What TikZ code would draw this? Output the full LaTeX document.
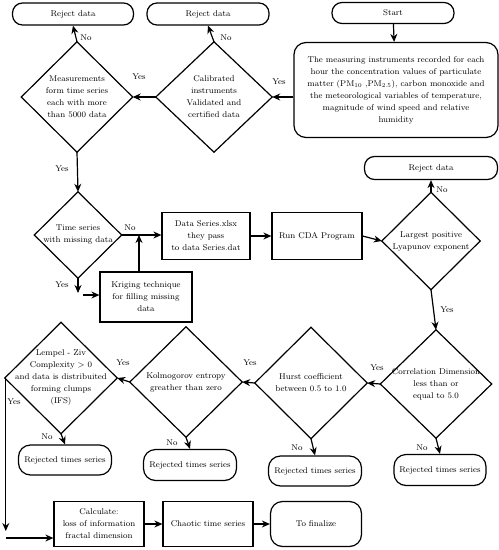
\documentclass[tikz,border=0pt]{standalone}
\usetikzlibrary{arrows.meta}
\newcommand\mydia[6]{%
  \node[base,minimum width=#4pt,minimum height=#5pt] (#1) at (#2,#3) {#6};
  \draw[ln] (#1.north)--(#1.east)--(#1.south)--(#1.west)--cycle;}
\tikzset{
  base/.style={font=\fontsize{8.4}{12}\selectfont, align=center, inner sep=0pt},
  ln/.style={line width=1.2pt},
  term/.style={base, draw, ln, rounded corners=10pt},
  proc/.style={base, draw, ln},
  arr/.style={line width=1.2pt, -{Stealth[length=8pt,width=7pt]}},
  lab/.style={font=\fontsize{8.4}{10}\selectfont, inner sep=0pt}
}
\begin{document}
\begin{tikzpicture}[x=1pt,y=-1pt]
\useasboundingbox (0,0) rectangle (499,550);
% terminals top
\node[term,minimum width=121pt,minimum height=22pt] (rj1) at (73,14) {Reject data};
\node[term,minimum width=122pt,minimum height=22pt] (rj2) at (208,14) {Reject data};
\node[term,minimum width=122pt,minimum height=21pt] (start) at (393,13) {Start};
\node[term,minimum width=133pt,minimum height=23pt] (rj3) at (431,168) {Reject data};
\node[term,rounded corners=12pt,minimum width=204pt,minimum height=95pt] (big) at (396,90)
 {The measuring instruments recorded for each\\ hour the concentration values of particulate\\ matter (PM\textsubscript{10} ,PM\textsubscript{2.5}), carbon monoxide and\\ the meteorological variables of temperature,\\ magnitude of wind speed and relative\\ humidity};
% diamonds
\mydia{d1}{77}{97}{111}{110}{Measurements\\form time series\\each with more\\than 5000 data}
\mydia{d2}{214}{97}{116}{110}{Calibrated\\instruments\\Validated and\\certified data}
\mydia{d3}{78}{235}{87}{86}{Time series\\with missing data}
\mydia{d4}{431}{241}{98}{97}{Largest positive\\Lyapunov exponent}
\mydia{d5}{436}{384}{111}{108}{Correlation Dimension\\less than or\\equal to 5.0}
\mydia{d6}{311}{383}{112}{111}{Hurst coefficient\\between 0.5 to 1.0}
\mydia{d7}{186}{382}{112}{110}{Kolmogorov entropy\\greather than zero}
\mydia{d8}{61}{378}{112}{111}{Lempel - Ziv\\Complexity > 0\\and data is distribuited\\forming clumps\\(IFS)}
% process boxes
\node[proc,minimum width=88pt,minimum height=47pt] (data) at (206,236) {Data Series.xlsx\\they pass\\to data Series.dat};
\node[proc,minimum width=92pt,minimum height=50pt] (krig) at (146,297) {Kriging technique\\for filling missing\\data};
\node[proc,minimum width=90pt,minimum height=47pt] (run) at (317,236) {Run CDA Program};
% rejected
\node[term,rounded corners=12pt,minimum width=93pt,minimum height=30pt] (r1) at (65,460) {Rejected times series};
\node[term,rounded corners=12pt,minimum width=93pt,minimum height=31pt] (r2) at (190,465) {Rejected times series};
\node[term,rounded corners=12pt,minimum width=93pt,minimum height=30pt] (r3) at (315,471) {Rejected times series};
\node[term,rounded corners=12pt,minimum width=92pt,minimum height=31pt] (r4) at (440,470) {Rejected times series};
% bottom
\node[proc,minimum width=90pt,minimum height=45pt] (calc) at (99,524) {Calculate:\\loss of information\\fractal dimension};
\node[proc,minimum width=90pt,minimum height=45pt] (chaos) at (208,524) {Chaotic time series};
\node[term,rounded corners=12pt,minimum width=91pt,minimum height=45pt] (fin) at (316,524) {To finalize};
% connectors
\draw[arr] (start) -- (big);
\draw[arr] (d2.east -| big.west) -- (d2.east);
\node[lab] at (279,82) {Yes};
\draw[arr] (d2.west) -- (d1.east);
\node[lab] at (139,77) {Yes};
\draw[arr] (d2.north) -- (rj2.south);
\node[lab] at (226,38) {No};
\draw[arr] (d1.north) -- (rj1.south);
\node[lab] at (86,38) {No};
\draw[arr] (d1.south) -- (d3.north);
\node[lab] at (62,169) {Yes};
\draw[arr] (d3.east) -- (d3.east -| data.west);
\node[lab] at (130,228) {No};
\coordinate (kup) at ([xshift=-7pt]krig.north);
\draw[arr] (kup) -- (kup |- d3.east);
\coordinate (ky) at (d3.south |- krig.west);
\draw[arr] (d3.south) -- ([yshift=4pt]ky);
\draw[arr] ([xshift=5pt,yshift=2pt]ky) -- ([yshift=2pt]krig.west);
\node[lab] at (62,285) {Yes};
\draw[arr] (data.east) -- (run.west);
\draw[arr] (run.east) -- (d4.west);
\draw[arr] (d4.north) -- (rj3.south);
\node[lab] at (442,190) {No};
\draw[arr] (d4.south) -- (d5.north);
\node[lab] at (447,310) {Yes};
\draw[arr] (d5.west) -- (d6.east);
\node[lab] at (377,368) {Yes};
\draw[arr] (d6.west) -- (d7.east);
\node[lab] at (250,363) {Yes};
\draw[arr] (d7.west) -- (d8.east);
\node[lab] at (123,363) {Yes};
\draw[arr] (d5.south) -- (r4.north);
\node[lab] at (422,448) {No};
\draw[arr] (d6.south) -- (r3.north);
\node[lab] at (297,448) {No};
\draw[arr] (d7.south) -- (r2.north);
\node[lab] at (172,443) {No};
\draw[arr] (d8.south) -- (r1.north);
\node[lab] at (47,437) {No};
\coordinate (lc) at ([xshift=1pt]d8.west);
\coordinate (ld) at (lc |- 0,531);
\draw[arr] (lc) -- (ld);
\coordinate (le) at (lc |- 0,538);
\draw[arr] (le) -- (le -| calc.west);
\node[lab] at (14,402) {Yes};
\draw[arr] (calc.east) -- (chaos.west);
\draw[arr] (chaos.east) -- (fin.west);
\end{tikzpicture}
\end{document}
